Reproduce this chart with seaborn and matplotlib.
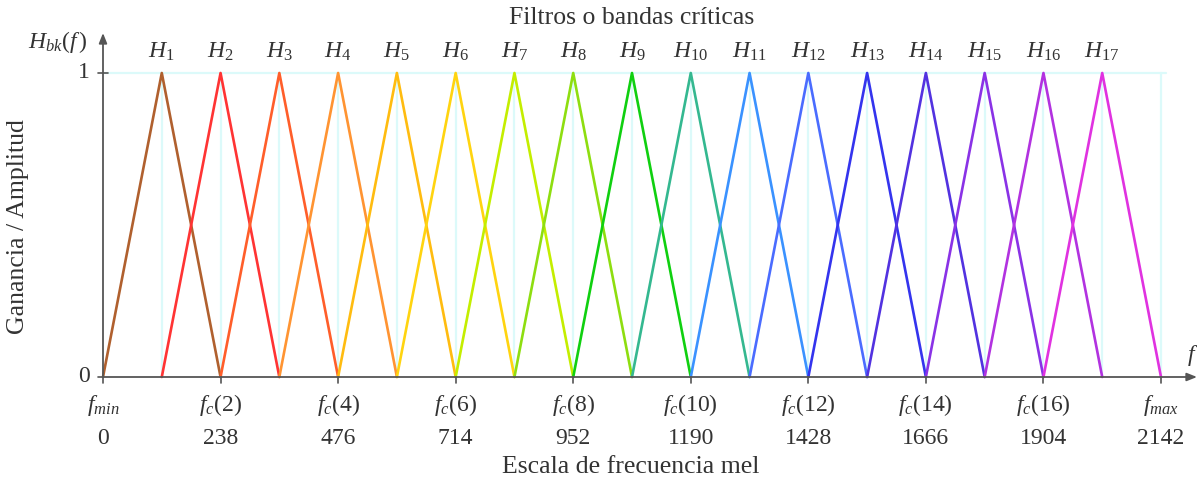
import numpy as np
import pandas as pd
import seaborn as sns
import matplotlib
matplotlib.use("Agg")
import matplotlib.pyplot as plt

# ---------------- data ----------------
filter_names = [f"H{k}" for k in range(1, 18)]
centers = [119, 238, 357, 476, 595, 714, 833, 952, 1071, 1190,
           1309, 1428, 1547, 1666, 1785, 1904, 2023]
half_width = 119
grid_positions = [119, 238, 357, 476, 595, 714, 833, 952, 1071, 1190,
                  1309, 1428, 1547, 1666, 1785, 1904, 2023, 2142]
tick_values = [0, 238, 476, 714, 952, 1190, 1428, 1666, 1904, 2142]
tick_symbols = [r"$f_{min}$", r"$f_c(2)$", r"$f_c(4)$", r"$f_c(6)$", r"$f_c(8)$",
                r"$f_c(10)$", r"$f_c(12)$", r"$f_c(14)$", r"$f_c(16)$", r"$f_{max}$"]
tick_numbers = ["0", "238", "476", "714", "952", "1190", "1428", "1666", "1904", "2142"]
colors = ["#b0602e", "#ff3434", "#ff5e2a", "#ff9432", "#ffbc10", "#ffd410",
          "#c4ee00", "#8ede10", "#10d010", "#34b890", "#3a92ff", "#4a6cff",
          "#3434ee", "#5232e0", "#8a32e6", "#b232e0", "#e032e0"]

rows = []
for name, c in zip(filter_names, centers):
    for order, (x, y) in enumerate([(c - half_width, 0.0), (c, 1.0), (c + half_width, 0.0)]):
        rows.append({"filtro": name, "mel": x, "ganancia": y, "orden": order})
df = pd.DataFrame(rows)

# ---------------- style ----------------
sns.set_theme(style="white")
plt.rcParams["font.family"] = ["Liberation Serif", "DejaVu Serif"]
plt.rcParams["mathtext.fontset"] = "custom"
plt.rcParams["mathtext.rm"] = "Liberation Serif"
plt.rcParams["mathtext.it"] = "Liberation Serif:italic"
plt.rcParams["mathtext.bf"] = "Liberation Serif:bold"

W, H = 1197, 482
fig = plt.figure(figsize=(W / 100, H / 100), dpi=100)
ax = fig.add_axes([0, 0, 1, 1])

# pixel mapping: x=0 -> 103px, x=2142 -> 1161px ; y=0 -> 377px, y=1 -> 73px
sx = (1161 - 103) / 2142.0
sy = (377 - 73) / 1.0
ax.set_xlim(-103 / sx, (W - 103) / sx)
ax.set_ylim(-(H - 377) / sy, 377 / sy)

grid_col = "#dcfafa"
axis_col = "#555555"
text_col = "#333333"

# grid lines
for g in grid_positions:
    ax.plot([g, g], [0, 1], color=grid_col, lw=1.6, zorder=1)
ax.plot([0, 2152], [1, 1], color=grid_col, lw=1.6, zorder=1)

# filters
sns.lineplot(data=df, x="mel", y="ganancia", hue="filtro", palette=colors,
             sort=False, estimator=None, units="filtro", legend=False,
             lw=1.9, ax=ax, zorder=3)

# axes lines with arrows
x_end = (1197 - 103) / sx
y_end = (377 - 33) / sy
ax.annotate("", xy=(x_end, 0), xytext=(0, 0),
            arrowprops=dict(arrowstyle="-|>,head_length=0.5,head_width=0.2",
                            color=axis_col, lw=1.3, shrinkA=0, shrinkB=0), zorder=4)
ax.annotate("", xy=(0, y_end), xytext=(0, 0),
            arrowprops=dict(arrowstyle="-|>,head_length=0.5,head_width=0.2",
                            color=axis_col, lw=1.3, shrinkA=0, shrinkB=0), zorder=4)

# tick marks
for t in tick_values:
    ax.plot([t, t], [0, -6 / sy], color=axis_col, lw=1.2, zorder=4)
ax.plot([-5 / sx, 5 / sx], [1, 1], color=axis_col, lw=1.2, zorder=4)
ax.plot([-5 / sx, 0], [0, 0], color=axis_col, lw=1.2, zorder=4)

fs_word = 18.5
fs_math = 17
fs_num = 17
# y tick labels
ax.text(-13 / sx, 1, "1", ha="right", va="center", fontsize=fs_num, color=text_col)
ax.text(-13 / sx, 0, "0", ha="right", va="center", fontsize=fs_num, color=text_col)

# x tick labels (two rows)
for t, s, n in zip(tick_values, tick_symbols, tick_numbers):
    ax.text(t, (377 - 405) / sy, s, ha="center", va="center", fontsize=fs_math, color=text_col)
    ax.text(t, (377 - 438) / sy, n, ha="center", va="center", fontsize=fs_num, color=text_col)

# filter labels
for name, c in zip(filter_names, centers):
    k = name[1:]
    ax.text(c, (377 - 52) / sy, rf"$H_{{{k}}}$", ha="center", va="center",
            fontsize=fs_math, color=text_col)

# titles / labels
ax.text((632 - 103) / sx, (377 - 18) / sy, "Filtros o bandas críticas",
        ha="center", va="center", fontsize=fs_word, color=text_col)
ax.text((631 - 103) / sx, (377 - 467) / sy, "Escala de frecuencia mel",
        ha="center", va="center", fontsize=fs_word, color=text_col)
ax.text((18 - 103) / sx, (377 - 227) / sy, "Ganancia / Amplitud", rotation=90,
        ha="center", va="center", fontsize=fs_word, color=text_col)
ax.text((58 - 103) / sx, (377 - 42) / sy, r"$H_{bk}(f\,)$",
        ha="center", va="center", fontsize=fs_math, color=text_col)
ax.text((1187 - 103) / sx, (377 - 355) / sy, r"$f$",
        ha="left", va="center", fontsize=fs_math, color=text_col)

ax.axis("off")
fig.savefig("out.png", dpi=100)
